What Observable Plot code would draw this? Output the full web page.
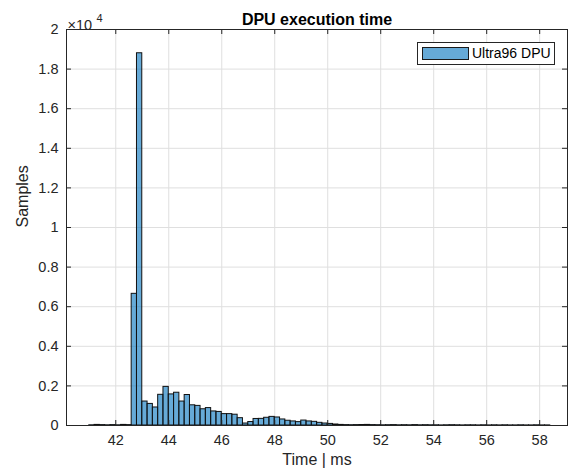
<!DOCTYPE html>
<html>
<head>
<meta charset="utf-8">
<script src="https://cdn.jsdelivr.net/npm/d3@7"></script>
<script src="https://cdn.jsdelivr.net/npm/@observablehq/plot@0.6"></script>
<style>
  body { margin: 0; background: #fff; }
  #wrap { position: relative; width: 569px; height: 472px; font-family: "Liberation Sans", Arial, Helvetica, sans-serif; }
  #legend { position: absolute; left: 417px; top: 42px; width: 136px; height: 21px; border: 1px solid #262626; background: #fff; box-sizing: content-box; }
  #legend .sw { position: absolute; left: 4px; top: 4px; width: 45px; height: 11px; background: rgba(0,114,189,0.6); border: 1px solid #1a1a1a; }
  #legend .lb { position: absolute; left: 54px; top: 2px; font-size: 14px; color: #000; line-height: 17px; white-space: nowrap; }
</style>
</head>
<body>
<div id="wrap">
  <div id="legend"><div class="sw"></div><div class="lb">Ultra96 DPU</div></div>
</div>
<script>
// Histogram bins (left edges, ms) and sample counts
const binLeft = [
  41.0, 41.2, 41.4, 41.6, 41.8, 42.0, 42.2, 42.4,
  42.6, 42.8, 43.0, 43.2, 43.4, 43.6, 43.8, 44.0, 44.2, 44.4, 44.6, 44.8,
  45.0, 45.2, 45.4, 45.6, 45.8, 46.0, 46.2, 46.4, 46.6, 46.8,
  47.0, 47.2, 47.4, 47.6, 47.8, 48.0, 48.2, 48.4, 48.6, 48.8,
  49.0, 49.2, 49.4, 49.6, 49.8, 50.0, 50.2, 50.4, 50.6, 50.8,
  51.0, 51.2, 51.4, 51.6, 51.8, 52.0, 52.2, 52.4, 52.6, 52.8,
  53.0, 53.2, 53.4, 53.6, 53.8, 54.0, 54.2, 54.4, 54.6, 54.8,
  55.0, 55.2, 55.4, 55.6, 55.8, 56.0, 56.2, 56.4, 56.6, 56.8,
  57.0, 57.2, 57.4, 57.6, 57.8, 58.0, 58.2
];
const counts = [
  10, 30, 20, 10, 20, 10, 30, 20,
  6650, 18800, 1210, 1090, 910, 1550, 1950, 1570, 1655, 1210, 1540, 1020,
  990, 820, 880, 710, 685, 575, 575, 545, 370, 100,
  175, 330, 335, 390, 435, 405, 305, 240, 205, 170,
  250, 205, 185, 135, 100, 80, 50, 30, 20, 15,
  20, 25, 30, 20, 15, 10, 15, 20, 10, 15,
  10, 20, 10, 15, 10, 10, 5, 10, 15, 10,
  5, 10, 10, 5, 10, 5, 10, 5, 10, 5,
  5, 10, 5, 5, 10, 5, 5
];
const binWidth = 0.2;
const xTicks = [42, 44, 46, 48, 50, 52, 54, 56, 58];
const yTicks = [0, 2000, 4000, 6000, 8000, 10000, 12000, 14000, 16000, 18000, 20000];
const xDomain = [40.14, 59.05];
const yDomain = [0, 20000];

const bins = binLeft.map((x, i) => ({x1: x, x2: +(x + binWidth).toFixed(2), y: counts[i]}));

const W = 569, H = 472, mL = 66, mR = 2, mT = 29, mB = 47;
const pxX = (xDomain[1] - xDomain[0]) / (W - mL - mR);
const pxY = (yDomain[1] - yDomain[0]) / (H - mT - mB);
const tl = 5;
const axisColor = "#262626";
const font = "Liberation Sans, Arial, Helvetica, sans-serif";

const chart = Plot.plot({
  width: W, height: H,
  marginLeft: mL, marginRight: mR, marginTop: mT, marginBottom: mB,
  style: {fontFamily: font, background: "#fff", overflow: "visible"},
  x: {domain: xDomain},
  y: {domain: yDomain},
  marks: [
    Plot.gridX(xTicks, {stroke: "#dfdfdf", strokeOpacity: 1, strokeWidth: 1}),
    Plot.gridY(yTicks, {stroke: "#dfdfdf", strokeOpacity: 1, strokeWidth: 1}),
    Plot.rectY(bins, {x1: "x1", x2: "x2", y: "y", fill: "#0072bd", fillOpacity: 0.6, stroke: "#111", strokeWidth: 1, inset: 0}),
    // inward ticks
    Plot.ruleX(xTicks, {y1: yDomain[0], y2: yDomain[0] + tl * pxY, stroke: axisColor}),
    Plot.ruleX(xTicks, {y1: yDomain[1], y2: yDomain[1] - tl * pxY, stroke: axisColor}),
    Plot.ruleY(yTicks, {x1: xDomain[0], x2: xDomain[0] + tl * pxX, stroke: axisColor}),
    Plot.ruleY(yTicks, {x1: xDomain[1], x2: xDomain[1] - tl * pxX, stroke: axisColor}),
    Plot.frame({stroke: axisColor, strokeWidth: 1}),
    Plot.axisX(xTicks, {tickSize: 0, tickPadding: 9, fontSize: 14.5, color: axisColor, label: null}),
    Plot.axisY(yTicks, {tickSize: 0, tickPadding: 8, fontSize: 14.5, color: axisColor, label: null,
      tickFormat: d => String(+(d / 10000).toFixed(1))}),
    Plot.text(["Time | ms"], {frameAnchor: "bottom", dy: 39, fontSize: 16, fill: axisColor}),
    Plot.text(["Samples"], {frameAnchor: "left", dx: -44, rotate: -90, fontSize: 16, fill: axisColor}),
    Plot.text(["DPU execution time"], {frameAnchor: "top", dy: -16, fontSize: 16, fontWeight: "bold", fill: "#000"}),
    Plot.text(["×10"], {frameAnchor: "top-left", textAnchor: "start", dx: 1, dy: -10, fontSize: 14.5, fill: axisColor}),
    Plot.text(["4"], {frameAnchor: "top-left", textAnchor: "start", dx: 30, dy: -15.5, fontSize: 11, fill: axisColor})
  ]
});
document.getElementById("wrap").prepend(chart);
</script>
</body>
</html>
